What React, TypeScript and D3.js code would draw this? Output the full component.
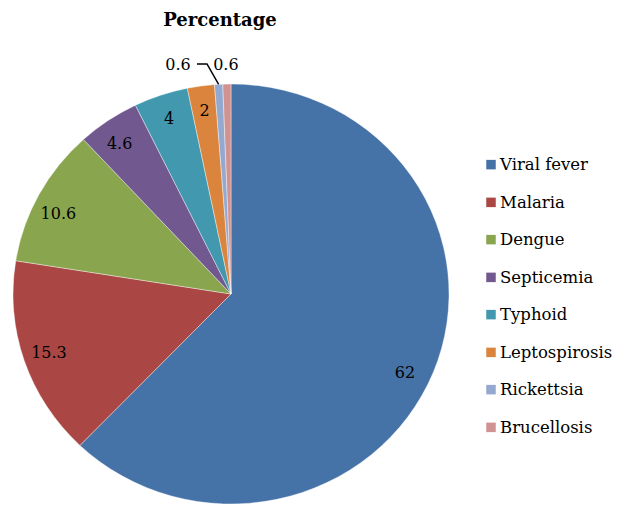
import React from "react";
import * as d3 from "d3";

const categories = ["Viral fever", "Malaria", "Dengue", "Septicemia", "Typhoid", "Leptospirosis", "Rickettsia", "Brucellosis"];
const values = [62, 15.3, 10.6, 4.6, 4, 2, 0.6, 0.6];
const colors = ["#4572A7", "#AA4643", "#89A54E", "#71588F", "#4198AF", "#DB843D", "#93A9CF", "#D19392"];
const labelText = ["62", "15.3", "10.6", "4.6", "4", "2", "0.6", "0.6"];
const title = "Percentage";

const W = 618, H = 508;
const cx = 231, cy = 294, R = 218, SY = 210 / 218;
const FONT = "'DejaVu Serif', serif";

export default function App() {
  const pie = d3.pie<number>().sort(null).value((d) => d);
  const arcs = pie(values);
  const arc = d3.arc<d3.PieArcDatum<number>>().innerRadius(0).outerRadius(R);
  // Excel "best fit" placement nudges (angle shift in radians)
  const angleNudge = (i: number) => (i === 0 ? 0.055 : i === 2 ? -0.04 : i === 3 ? -0.02 : 0);

  const legendY = d3.scaleBand<string>().domain(categories).range([146, 446]);

  const a6 = arcs[6], a7 = arcs[7];
  const m6 = (a6.startAngle + a6.endAngle) / 2;
  const m7 = (a7.startAngle + a7.endAngle) / 2;
  const ex = Math.sin(m6) * R, ey = -Math.cos(m6) * R * SY;
  const lx = -53, ly = -230;

  return (
    <svg width={W} height={H} style={{ position: "absolute", left: 0, top: 0, background: "#fff" }}>
      <text x={220} y={26} textAnchor="middle" fontFamily={FONT} fontWeight="bold" fontSize={18} fill="#000">{title}</text>
      <g transform={`translate(${cx},${cy})`}>
        <g transform={`scale(1,${SY})`}>
          {arcs.map((a, i) => (
            <path key={i} d={arc(a) || ""} fill={colors[i]} stroke="#ffffff" strokeOpacity={0.5} strokeWidth={0.8} />
          ))}
        </g>
        {arcs.map((a, i) => {
          if (i >= 6) return null;
          const m = (a.startAngle + a.endAngle) / 2 + angleNudge(i);
          const x = Math.sin(m) * 192;
          const y = -Math.cos(m) * 192 * SY;
          return (
            <text key={i} x={x} y={y} textAnchor="middle" dominantBaseline="central" fontFamily={FONT} fontSize={16} fill="#000">{labelText[i]}</text>
          );
        })}
        <polyline points={`${lx + 19},${ly} ${lx + 29},${ly} ${ex},${ey}`} fill="none" stroke="#000" strokeWidth={1.5} />
        <text x={lx} y={ly} textAnchor="middle" dominantBaseline="central" fontFamily={FONT} fontSize={16}>{labelText[6]}</text>
        <text x={Math.sin(m7) * R - 1} y={ly} textAnchor="middle" dominantBaseline="central" fontFamily={FONT} fontSize={16}>{labelText[7]}</text>
      </g>
      <g>
        {categories.map((c, i) => {
          const y = (legendY(c) || 0) + legendY.bandwidth() / 2;
          return (
            <g key={c}>
              <rect x={486} y={y - 5} width={10} height={10} fill={colors[i]} stroke="#fff" strokeWidth={0.5} />
              <text x={500} y={y} dominantBaseline="central" fontFamily={FONT} fontSize={16.5} fill="#000">{c}</text>
            </g>
          );
        })}
      </g>
    </svg>
  );
}
